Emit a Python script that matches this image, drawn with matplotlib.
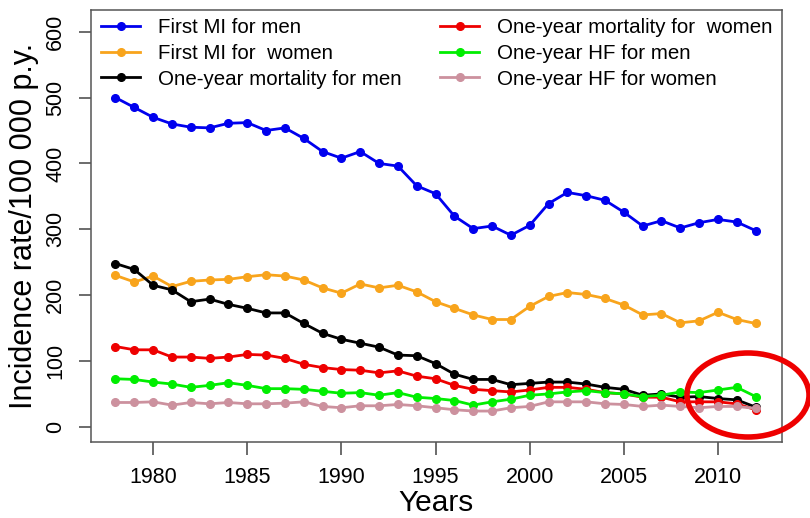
import matplotlib.pyplot as plt
from matplotlib.patches import Ellipse

years = list(range(1978, 2013))

mi_men = [500, 485, 470, 460, 455, 454, 461, 462, 450, 454, 438, 418,
          408, 418, 400, 396, 366, 354, 320, 301, 305, 291, 306, 339,
          356, 351, 344, 326, 305, 313, 302, 310, 315, 311, 298]
mi_women = [230, 220, 229, 213, 221, 223, 224, 228, 231, 229, 223, 211,
            203, 217, 211, 215, 205, 190, 180, 170, 163, 163, 183, 198,
            204, 201, 195, 185, 170, 172, 158, 161, 174, 163, 157]
mort_men = [248, 239, 215, 208, 190, 194, 186, 180, 173, 173, 157, 142,
            133, 127, 121, 109, 108, 96, 80, 72, 72, 64, 66, 68,
            68, 65, 60, 57, 48, 50, 45, 46, 43, 41, 30]
mort_women = [122, 117, 117, 106, 106, 104, 106, 110, 109, 104, 95, 90,
              87, 86, 82, 85, 77, 73, 63, 57, 55, 53, 56, 60,
              60, 57, 52, 50, 45, 45, 38, 38, 38, 35, 26]
hf_men = [73, 72, 68, 65, 60, 63, 67, 63, 58, 58, 57, 54,
          51, 52, 48, 52, 45, 43, 40, 33, 38, 42, 48, 50,
          53, 55, 52, 50, 46, 48, 53, 52, 56, 60, 46]
hf_women = [37, 37, 38, 33, 37, 35, 37, 35, 35, 36, 38, 31,
            29, 32, 32, 34, 32, 29, 26, 24, 24, 29, 31, 38,
            38, 38, 35, 34, 31, 33, 31, 29, 31, 31, 28]

labels = ['First MI for men', 'First MI for  women', 'One-year mortality for men',
          'One-year mortality for  women', 'One-year HF for men', 'One-year HF for women']
colors = ['#0000ee', '#f8a41c', '#000000', '#ee0000', '#00ee00', '#cc919e']
series = [mi_men, mi_women, mort_men, mort_women, hf_men, hf_women]

plt.rcParams['font.family'] = ['Liberation Sans', 'DejaVu Sans']

fig = plt.figure(figsize=(8.1, 5.18), dpi=100)
ax = fig.add_axes([91/810, 76/518, 691/810, 432/518])

for vals, col, lab in zip(series, colors, labels):
    ax.plot(years, vals, color=col, lw=2, marker='o', markersize=5.5, label=lab)

ax.set_xlim(1976.7, 2013.4)
ax.set_ylim(-23, 633)
ax.set_xticks(range(1980, 2011, 5))
ax.set_yticks(range(0, 601, 100))
ax.tick_params(axis='both', labelsize=15.5, length=9, width=1.1, color='#444444', pad=9)
plt.setp(ax.get_yticklabels(), rotation=90, va='center')
for s in ax.spines.values():
    s.set_color('#555555')
    s.set_linewidth(1.1)

ax.set_xlabel('Years', fontsize=21.5, labelpad=1)
ax.set_ylabel('Incidence rate/100 000 p.y.', fontsize=22, labelpad=4)

ax.legend(ncol=2, loc='upper left', bbox_to_anchor=(101/810, 500/518),
          bbox_transform=fig.transFigure, frameon=False, fontsize=14.8,
          borderpad=0, borderaxespad=0, handlelength=1.9, handletextpad=0.85,
          labelspacing=0.33, columnspacing=1.9)

# red circle highlighting the last years
fig.add_artist(Ellipse((748/810, 123/518), 122/810, 84/518,
                       transform=fig.transFigure, fill=False,
                       edgecolor='#ee0000', lw=4, clip_on=False))

fig.savefig('out.png', dpi=100)
